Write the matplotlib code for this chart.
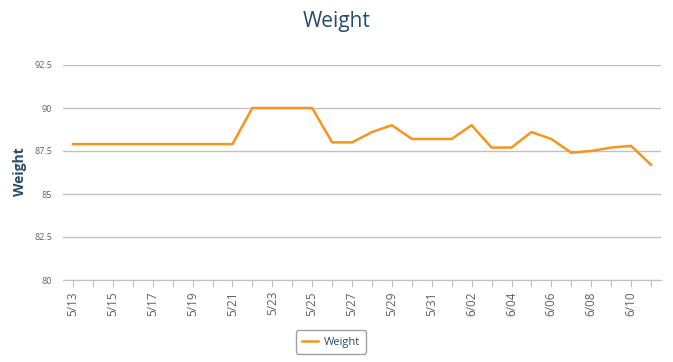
import matplotlib.pyplot as plt

dates = ["5/13", "5/14", "5/15", "5/16", "5/17", "5/18", "5/19", "5/20", "5/21", "5/22",
         "5/23", "5/24", "5/25", "5/26", "5/27", "5/28", "5/29", "5/30", "5/31", "6/01",
         "6/02", "6/03", "6/04", "6/05", "6/06", "6/07", "6/08", "6/09", "6/10", "6/11"]
weight = [87.9, 87.9, 87.9, 87.9, 87.9, 87.9, 87.9, 87.9, 87.9, 90.0,
          90.0, 90.0, 90.0, 88.0, 88.0, 88.6, 89.0, 88.2, 88.2, 88.2,
          89.0, 87.7, 87.7, 88.6, 88.2, 87.4, 87.5, 87.7, 87.8, 86.7]
yticks = [80, 82.5, 85, 87.5, 90, 92.5]
ytick_labels = ["80", "82.5", "85", "87.5", "90", "92.5"]

line_color = "#f7941d"
title_color = "#274b6d"
label_color = "#606060"

plt.rcParams['font.family'] = ['Open Sans', 'DejaVu Sans']

fig = plt.figure(figsize=(6.73, 3.62), dpi=100)
ax = fig.add_axes([63 / 673, 1 - 280 / 362, (661 - 63) / 673, (280 - 65) / 362])

x = list(range(len(dates)))
ax.plot(x, weight, color=line_color, linewidth=1.8, label="Weight")

ax.set_xlim(-0.5, len(dates) - 0.5)
ax.set_ylim(80, 92.5)
ax.set_yticks(yticks)
ax.set_yticklabels(ytick_labels, fontsize=6.5, color=label_color)
ax.grid(axis='y', color='#c0c0c0', linewidth=1)
ax.set_axisbelow(True)

ax.set_xticks(x)
ax.set_xticklabels([d if i % 2 == 0 else "" for i, d in enumerate(dates)],
                   rotation=90, fontsize=8.5, color=label_color)
ax.tick_params(axis='x', length=5, color='#c0c0c0', pad=3)
ax.tick_params(axis='y', length=0, pad=8)

for s in ['top', 'right', 'left']:
    ax.spines[s].set_visible(False)
ax.spines['bottom'].set_color('#c0c0c0')

fig.text(20 / 673, 1 - 172 / 362, "Weight", rotation=90, ha='center', va='center',
         fontsize=10, color=title_color, fontweight='bold')
fig.text(0.5, 0.94, "Weight", ha='center', va='center', fontsize=15, color=title_color)

leg = fig.legend(loc='center', bbox_to_anchor=(331 / 673, 1 - 342 / 362), fontsize=8,
                 frameon=True, fancybox=True, edgecolor='#a0a0a0', handlelength=1.5,
                 handletextpad=0.5, borderpad=0.55, framealpha=1)
leg.get_frame().set_linewidth(1)
for t in leg.get_texts():
    t.set_color(title_color)

fig.savefig("out.png", dpi=100)
